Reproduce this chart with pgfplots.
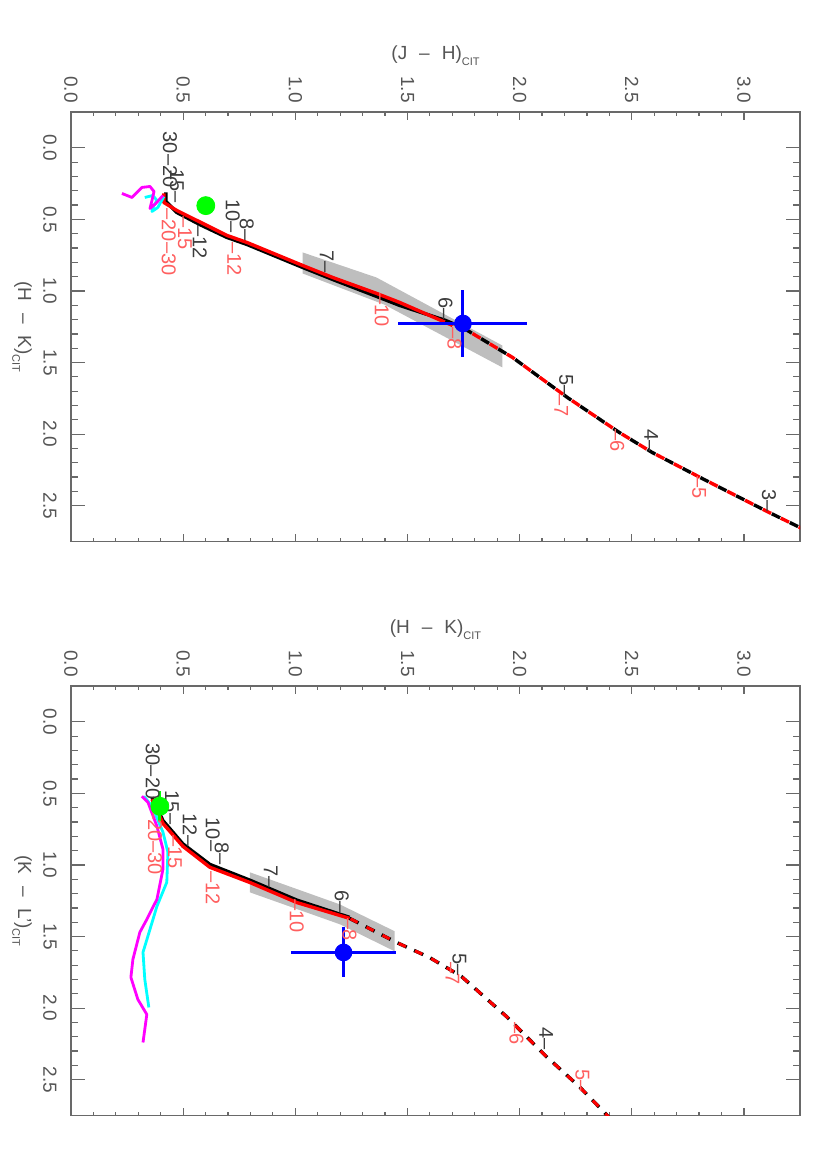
\documentclass[border=0pt]{standalone}
\usepackage{pgfplots}
\pgfplotsset{compat=1.18}
\usepackage{fontspec}
\setmainfont{Liberation Sans}
\definecolor{txtgray}{RGB}{85,85,85}
\definecolor{axgray}{RGB}{105,105,105}
\definecolor{lblgray}{RGB}{60,60,60}
\definecolor{lred}{RGB}{255,95,95}
\definecolor{bandgray}{RGB}{190,190,190}
\definecolor{mgc}{RGB}{255,0,255}
\definecolor{cyc}{RGB}{0,255,255}
\definecolor{grc}{RGB}{0,255,0}
\definecolor{blc}{RGB}{0,0,255}
\definecolor{rdc}{RGB}{255,0,0}
\newcommand{\subt}[1]{\raisebox{-0.3em}{\fontsize{5.5}{6}\selectfont #1}}
\pgfplotsset{
  cc/.style={
    scale only axis, width=364.5pt, height=214.75pt,
    xmin=0, xmax=3.25, ymin=-0.25, ymax=2.75, y dir=reverse,
    xtick={0,0.5,1,1.5,2,2.5,3}, ytick={0,0.5,1,1.5,2,2.5},
    xticklabels={0.0,0.5,1.0,1.5,2.0,2.5,3.0},
    yticklabels={0.0,0.5,1.0,1.5,2.0,2.5},
    minor x tick num=4, minor y tick num=4,
    xticklabel pos=upper,
    tick align=inside,
    axis line style={axgray, line width=0.8pt},
    tick style={axgray, line width=0.6pt},
    xtick style={/pgfplots/major tick length=4pt, /pgfplots/minor tick length=2pt},
    ytick style={/pgfplots/major tick length=7pt, /pgfplots/minor tick length=3.5pt},
    xticklabel style={rotate=-90, anchor=east, inner sep=0pt, text=txtgray, font=\fontsize{9.5}{10}\selectfont},
    yticklabel style={rotate=-90, anchor=north, inner sep=0pt, text=txtgray, font=\fontsize{9.5}{10}\selectfont},
    xticklabel shift=4.5pt,
    yticklabel shift=7pt,
    every axis x label/.style={at={(axis description cs:0.5,1)}, anchor=south, yshift=23pt, inner sep=0pt, text=txtgray, font=\fontsize{9.5}{11}\selectfont},
    every axis y label/.style={at={(axis description cs:0,0.5)}, xshift=-24.5pt, rotate=-90, anchor=center, inner sep=0pt, text=txtgray, font=\fontsize{9.5}{11}\selectfont},
    clip=true,
  },
  bandst/.style={draw=none, fill=bandgray},
  blk/.style={black, line width=1.7pt, line join=round},
  rd/.style={rdc, line width=1.7pt, line join=round},
  blkd/.style={black, line width=1.7pt, dash pattern=on 4.6pt off 5.4pt},
  rdd/.style={rdc, line width=1.7pt, dash pattern=on 4.6pt off 5.4pt, dash phase=-5pt},
  mg/.style={mgc, line width=1.4pt, line join=round},
  cy/.style={cyc, line width=1.4pt, line join=round},
}
\tikzset{
  bl/.style={rotate=-90, anchor=east, inner sep=0.3pt, text=lblgray, font=\fontsize{10}{10}\selectfont},
  rl/.style={rotate=-90, anchor=west, inner sep=0.3pt, text=lred, font=\fontsize{10}{10}\selectfont},
  rle/.style={rotate=-90, anchor=east, inner sep=0.3pt, text=lred, font=\fontsize{10}{10}\selectfont},
  blw/.style={rotate=-90, anchor=west, inner sep=0.3pt, text=lblgray, font=\fontsize{10}{10}\selectfont},
}
\begin{document}
\begin{tikzpicture}
\useasboundingbox (0pt,0pt) rectangle (415pt,-575pt);
% ---------------- top panel: (J-H) vs (H-K)
\begin{axis}[cc, at={(35.5pt,-56pt)}, anchor=north west,
  xlabel={(J\hspace{6pt}--\hspace{6pt}H)\subt{CIT}},
  ylabel={(H\hspace{6pt}--\hspace{6pt}K)\subt{CIT}}]
\addplot[bandst] coordinates {(1.033,0.731) (1.362,0.906) (1.923,1.381) (1.923,1.534) (1.398,1.096) (1.033,0.878)} -- cycle;
\addplot[blk] coordinates {(0.423,0.312) (0.423,0.375) (0.472,0.452) (0.574,0.536) (0.695,0.626) (0.784,0.675) (1.033,0.836) (1.167,0.920) (1.362,1.038) (1.465,1.101) (1.670,1.206)};
\addplot[rd] coordinates {(0.414,0.319) (0.414,0.382) (0.472,0.438) (0.695,0.612) (0.784,0.661) (1.033,0.822) (1.167,0.906) (1.362,1.017) (1.465,1.080) (1.701,1.241)};
\addplot[blkd] coordinates {(1.670,1.206) (1.745,1.255) (1.968,1.464) (2.213,1.744) (2.444,1.988) (2.591,2.128) (2.814,2.310) (3.112,2.547) (3.268,2.666)};
\addplot[rdd] coordinates {(1.670,1.206) (1.745,1.255) (1.968,1.464) (2.213,1.744) (2.444,1.988) (2.591,2.128) (2.814,2.310) (3.112,2.547) (3.268,2.666)};
\addplot[cy] coordinates {(0.329,0.347) (0.365,0.333) (0.383,0.368) (0.365,0.417) (0.361,0.445) (0.387,0.417) (0.414,0.340)};
\addplot[mg] coordinates {(0.227,0.319) (0.272,0.347) (0.316,0.277) (0.352,0.270) (0.370,0.305) (0.361,0.368) (0.352,0.424) (0.378,0.389) (0.410,0.333)};
\addplot[only marks, mark=*, mark size=4.5pt, color=grc] coordinates {(0.601,0.404)};
\addplot[only marks, mark=*, mark size=4.2pt, color=blc,
  error bars/.cd, x dir=both, x explicit, y dir=both, y explicit, error mark=none,
  error bar style={blc, line width=1.5pt}]
  coordinates {(1.7475,1.227) +- (0.2875,0.237)};
% labels black
\node[bl] at (axis cs:3.112,2.547) {3--};
\node[bl] at (axis cs:2.587,2.128) {4--};
\node[bl] at (axis cs:2.208,1.744) {5--};
\node[bl] at (axis cs:1.670,1.206) {6--};
\node[bl] at (axis cs:1.140,0.878) {7--};
\node[bl] at (axis cs:0.784,0.655) {8--};
\node[bl] at (axis cs:0.721,0.599) {10--};
\node[blw] at (axis cs:0.574,0.536) {--12};
\node[bl] at (axis cs:0.472,0.390) {15--};
\node[bl] at (axis cs:0.441,0.284) {30--20};
% labels red
\node[rl] at (axis cs:2.800,2.288) {--5};
\node[rl] at (axis cs:2.435,1.960) {--6};
\node[rl] at (axis cs:2.186,1.716) {--7};
\node[rl] at (axis cs:1.710,1.248) {--8};
\node[rl] at (axis cs:1.385,1.010) {--10};
\node[rl] at (axis cs:0.728,0.655) {--12};
\node[rl] at (axis cs:0.508,0.473) {--15};
\node[rl] at (axis cs:0.436,0.418) {--20--30};
\end{axis}
% ---------------- bottom panel: (H-K) vs (K-L')
\begin{axis}[cc, at={(35.5pt,-343pt)}, anchor=north west,
  xlabel={(H\hspace{6pt}--\hspace{6pt}K)\subt{CIT}},
  ylabel={(K\hspace{6pt}--\hspace{6pt}L')\subt{CIT}}]
\addplot[bandst] coordinates {(0.797,1.051) (1.198,1.275) (1.443,1.463) (1.443,1.603) (1.198,1.414) (0.797,1.191)} -- cycle;
\addplot[blk] coordinates {(0.361,0.527) (0.410,0.690) (0.499,0.853) (0.619,0.996) (0.797,1.106) (1.006,1.245) (1.207,1.348) (1.242,1.366)};
\addplot[rd] coordinates {(0.361,0.541) (0.410,0.710) (0.499,0.870) (0.619,1.016) (0.797,1.122) (1.006,1.262) (1.242,1.373)};
\addplot[blkd, dash pattern=on 5pt off 4pt] coordinates {(1.242,1.373) (1.451,1.541) (1.598,1.646) (1.741,1.779) (1.941,2.058) (2.119,2.338) (2.266,2.548) (2.409,2.779)};
\addplot[rdc, line width=1.5pt, dash pattern=on 4pt off 5pt, dash phase=-0.5pt] coordinates {(1.242,1.373) (1.451,1.541) (1.598,1.646) (1.741,1.779) (1.941,2.058) (2.119,2.338) (2.266,2.548) (2.409,2.779)};
\addplot[cy] coordinates {(0.325,0.520) (0.361,0.590) (0.410,0.771) (0.432,0.911) (0.427,1.121) (0.383,1.289) (0.352,1.450) (0.321,1.610) (0.329,1.799) (0.347,1.995)};
\addplot[mg] coordinates {(0.316,0.520) (0.343,0.562) (0.383,0.729) (0.410,0.890) (0.410,1.030) (0.383,1.240) (0.338,1.380) (0.307,1.470) (0.276,1.659) (0.267,1.785) (0.298,1.939) (0.338,2.044) (0.321,2.240)};
\addplot[only marks, mark=*, mark size=4.5pt, color=grc,
  error bars/.cd, y dir=both, y explicit, error mark=none,
  error bar style={grc, line width=1.5pt}]
  coordinates {(0.396,0.590) +- (0,0.105)};
\addplot[only marks, mark=*, mark size=4.2pt, color=blc,
  error bars/.cd, x dir=both, x explicit, y dir=both, y explicit, error mark=none,
  error bar style={blc, line width=1.5pt}]
  coordinates {(1.215,1.611) +- (0.234,0.175)};
% labels black
\node[bl] at (axis cs:2.119,2.296) {4--};
\node[bl] at (axis cs:1.732,1.778) {5--};
\node[bl] at (axis cs:1.207,1.338) {6--};
\node[bl] at (axis cs:0.890,1.163) {7--};
\node[bl] at (axis cs:0.672,1.002) {8--};
\node[bl] at (axis cs:0.632,0.911) {10--};
\node[bl] at (axis cs:0.530,0.879) {12--};
\node[bl] at (axis cs:0.450,0.722) {15--};
\node[bl] at (axis cs:0.365,0.548) {30--20};
% labels red
\node[rle] at (axis cs:2.280,2.590) {5--};
\node[rl] at (axis cs:1.986,2.093) {--6};
\node[rl] at (axis cs:1.701,1.673) {--7};
\node[rl] at (axis cs:1.242,1.365) {--8};
\node[rl] at (axis cs:1.006,1.233) {--10};
\node[rl] at (axis cs:0.632,1.037) {--12};
\node[rl] at (axis cs:0.463,0.785) {--15};
\node[rl] at (axis cs:0.374,0.597) {--20--30};
\end{axis}
\end{tikzpicture}
\end{document}
